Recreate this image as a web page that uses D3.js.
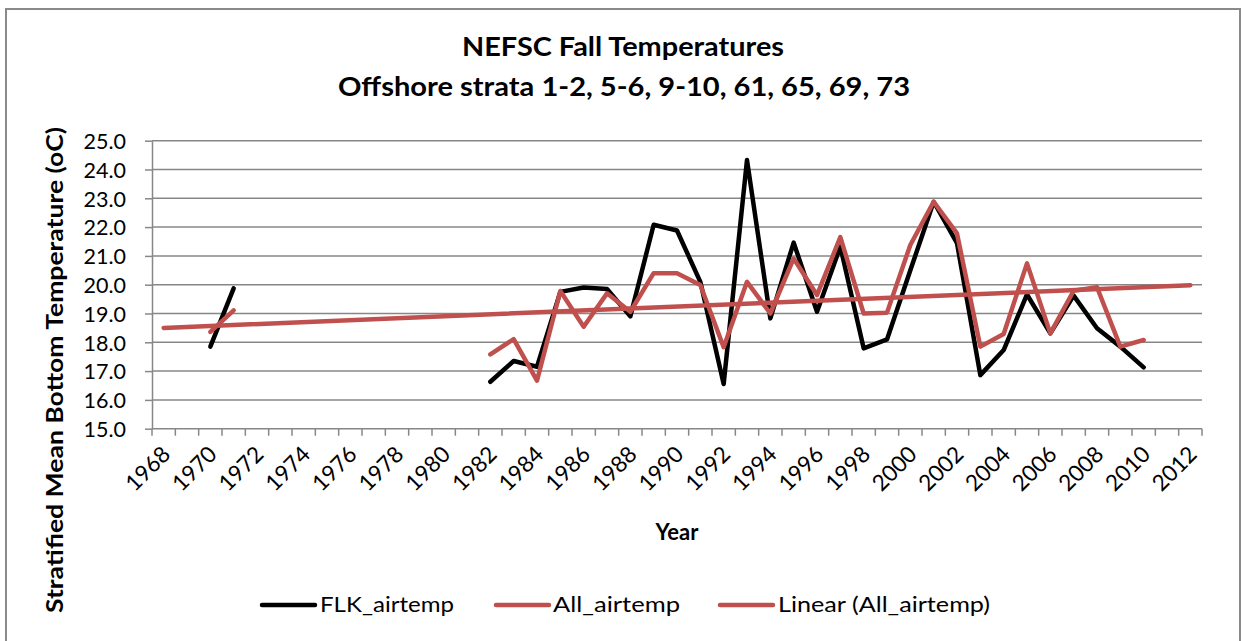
<!DOCTYPE html>
<html>
<head>
<meta charset="utf-8">
<script src="https://cdn.jsdelivr.net/npm/d3@7"></script>
<style>
  html, body { margin: 0; padding: 0; background: #fff; }
  svg { display: block; }
  text { font-family: Lato, "Open Sans", "Liberation Sans", sans-serif; fill: #000; }
</style>
</head>
<body>
<svg id="chart" width="1241" height="641"></svg>
<script>
// ---------- data ----------
const years = [1968,1969,1970,1971,1972,1973,1974,1975,1976,1977,1978,1979,1980,1981,1982,1983,1984,1985,1986,1987,1988,1989,1990,1991,1992,1993,1994,1995,1996,1997,1998,1999,2000,2001,2002,2003,2004,2005,2006,2007,2008,2009,2010,2011,2012];
const yearLabels = [1968,1970,1972,1974,1976,1978,1980,1982,1984,1986,1988,1990,1992,1994,1996,1998,2000,2002,2004,2006,2008,2010,2012];
const flkYears = [1970,1971,1982,1983,1984,1985,1986,1987,1988,1989,1990,1991,1992,1993,1994,1995,1996,1997,1998,1999,2000,2001,2002,2003,2004,2005,2006,2007,2008,2009,2010];
const flkValues = [17.85,19.87,16.63,17.35,17.15,19.75,19.90,19.85,18.90,22.08,21.88,20.10,16.55,24.33,18.83,21.46,19.06,21.32,17.79,18.10,20.50,22.88,21.44,16.86,17.73,19.66,18.31,19.62,18.49,17.85,17.13];
const allYears = [1970,1971,1982,1983,1984,1985,1986,1987,1988,1989,1990,1991,1992,1993,1994,1995,1996,1997,1998,1999,2000,2001,2002,2003,2004,2005,2006,2007,2008,2009,2010];
const allValues = [18.36,19.11,17.58,18.11,16.67,19.78,18.54,19.70,19.06,20.40,20.40,19.99,17.83,20.10,19.00,20.91,19.64,21.65,19.00,19.03,21.38,22.88,21.78,17.85,18.29,20.74,18.31,19.79,19.91,17.85,18.08];
const trendYears = [1968, 2012];
const trendValues = [18.50, 19.98];
const yTicks = [15,16,17,18,19,20,21,22,23,24,25];
const seriesNames = ["FLK_airtemp", "All_airtemp", "Linear (All_airtemp)"];
const titleLines = ["NEFSC Fall Temperatures", "Offshore strata 1-2, 5-6, 9-10, 61, 65, 69, 73"];

// ---------- layout ----------
const svg = d3.select("#chart");
const plot = {left: 152, right: 1202, top: 140.7, bottom: 428.7};
const gridColor = "#878787";
const red = "#C0504D";

svg.append("rect").attr("x", 6).attr("y", 9).attr("width", 1234).attr("height", 660)
  .attr("fill", "#fff").attr("stroke", "#8a8a8a").attr("stroke-width", 2);

const x = d3.scaleBand().domain(years).range([plot.left, plot.right]).padding(0);
const cx = yr => x(yr) + x.bandwidth() / 2;
const y = d3.scaleLinear().domain([15, 25]).range([plot.bottom, plot.top]);

// gridlines
svg.append("g").selectAll("line").data(yTicks.slice(1)).join("line")
  .attr("x1", plot.left).attr("x2", plot.right)
  .attr("y1", d => y(d)).attr("y2", d => y(d))
  .attr("stroke", gridColor).attr("stroke-width", 1.5);

// y axis
const yAxis = d3.axisLeft(y).tickValues(yTicks).tickFormat(d3.format(".1f")).tickSize(7).tickSizeOuter(0);
const gy = svg.append("g").attr("transform", `translate(${plot.left},0)`).call(yAxis);
gy.select(".domain").attr("stroke", gridColor).attr("stroke-width", 1.5);
gy.selectAll(".tick line").attr("stroke", gridColor).attr("stroke-width", 1.5);
gy.selectAll(".tick text").attr("x", -26).attr("dy", "0.36em")
  .style("font-size", "21.5px").style("font-family", "Lato, sans-serif").attr("fill", "#000");

// x axis: ticks at category boundaries
const bounds = years.map(yr => x(yr)).concat([plot.right]);
const gx = svg.append("g");
gx.append("line").attr("x1", plot.left).attr("x2", plot.right)
  .attr("y1", plot.bottom).attr("y2", plot.bottom)
  .attr("stroke", gridColor).attr("stroke-width", 1.5);
gx.selectAll("line.tk").data(bounds).join("line").attr("class", "tk")
  .attr("x1", d => d).attr("x2", d => d)
  .attr("y1", plot.bottom).attr("y2", plot.bottom + 7)
  .attr("stroke", gridColor).attr("stroke-width", 1.5);
gx.selectAll("text").data(yearLabels).join("text")
  .attr("transform", d => `translate(${cx(d) + 8},${plot.bottom + 27}) rotate(-45)`)
  .attr("text-anchor", "end")
  .style("font-size", "22.5px")
  .text(d => d);

// lines
const line = d3.line().x(d => cx(d[0])).y(d => y(d[1]));
const flk = flkYears.map((yr, i) => [yr, flkValues[i]]);
const all = allYears.map((yr, i) => [yr, allValues[i]]);
// split into contiguous segments (gaps in years)
function segments(pts) {
  const segs = []; let cur = [];
  pts.forEach((p, i) => {
    if (i > 0 && p[0] - pts[i-1][0] > 1) { segs.push(cur); cur = []; }
    cur.push(p);
  });
  if (cur.length) segs.push(cur);
  return segs;
}
const lineStyle = (sel, color) => sel.attr("fill", "none").attr("stroke", color)
  .attr("stroke-width", 4.5).attr("stroke-linejoin", "round").attr("stroke-linecap", "round");

svg.append("g").selectAll("path").data(segments(flk)).join("path")
  .attr("d", line).call(lineStyle, "#000");
svg.append("g").selectAll("path").data(segments(all)).join("path")
  .attr("d", line).call(lineStyle, red);
svg.append("path").datum(trendYears.map((yr, i) => [yr, trendValues[i]]))
  .attr("d", line).call(lineStyle, red);

// titles
svg.append("text").attr("x", 623).attr("y", 56).attr("text-anchor", "middle")
  .style("font-size", "26px").style("font-weight", "bold")
  .attr("textLength", 322).attr("lengthAdjust", "spacingAndGlyphs").text(titleLines[0]);
svg.append("text").attr("x", 624).attr("y", 96).attr("text-anchor", "middle")
  .style("font-size", "26px").style("font-weight", "bold")
  .attr("textLength", 572).attr("lengthAdjust", "spacingAndGlyphs").text(titleLines[1]);

// axis titles
svg.append("text").attr("x", 677).attr("y", 540).attr("text-anchor", "middle")
  .style("font-size", "22px").style("font-weight", "bold").text("Year");
svg.append("text").attr("transform", "translate(63,370) rotate(-90)").attr("text-anchor", "middle")
  .style("font-size", "22px").style("font-weight", "bold")
  .attr("textLength", 486).attr("lengthAdjust", "spacingAndGlyphs")
  .text("Stratified Mean Bottom Temperature (oC)");

// legend
const legendItems = [
  {name: seriesNames[0], color: "#000", x0: 262, tx: 320, w: 134},
  {name: seriesNames[1], color: red, x0: 496, tx: 553, w: 127},
  {name: seriesNames[2], color: red, x0: 720, tx: 778, w: 212}
];
const lg = svg.append("g");
legendItems.forEach(it => {
  lg.append("line").attr("x1", it.x0).attr("x2", it.x0 + 53).attr("y1", 605).attr("y2", 605)
    .attr("stroke", it.color).attr("stroke-width", 4.5).attr("stroke-linecap", "round");
  lg.append("text").attr("x", it.tx).attr("y", 612).style("font-size", "21px")
    .attr("textLength", it.w).attr("lengthAdjust", "spacingAndGlyphs").text(it.name);
});
</script>
</body>
</html>
